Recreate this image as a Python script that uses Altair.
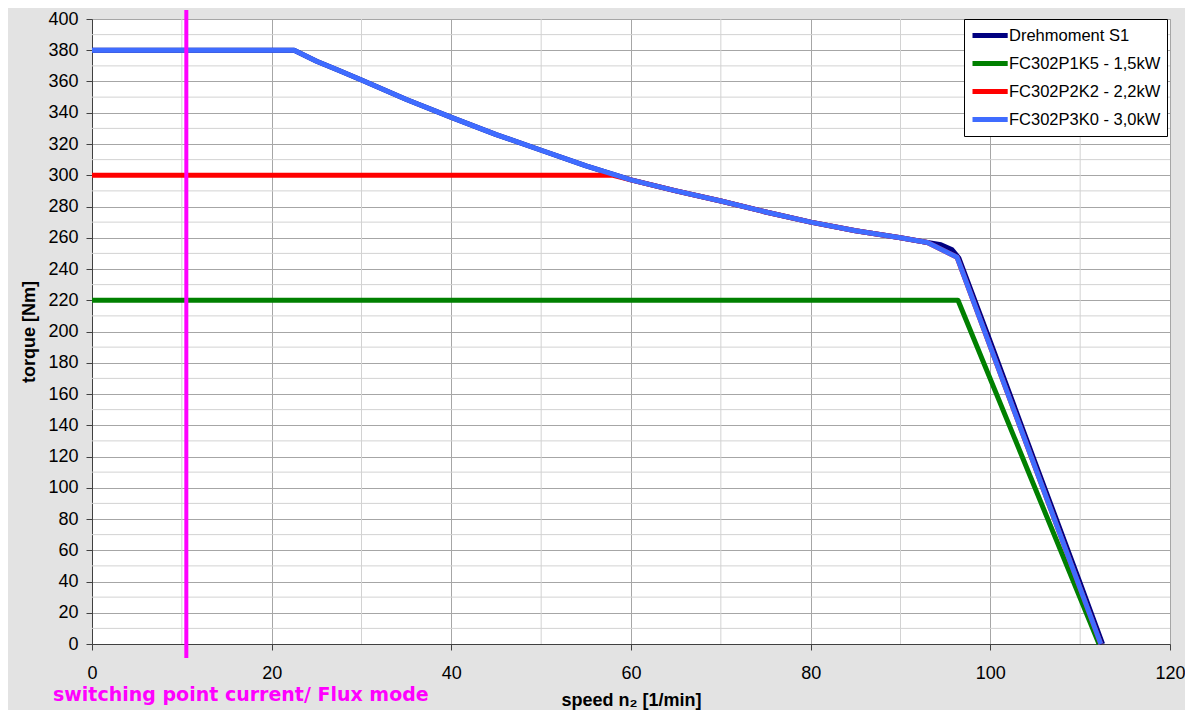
import altair as alt
import pandas as pd

# ---- data ----
series_names = ["Drehmoment S1", "FC302P1K5 - 1,5kW", "FC302P2K2 - 2,2kW", "FC302P3K0 - 3,0kW"]
series_colors = ["#000080", "#008000", "#ff0000", "#3f6cff"]

s1_speed = [0, 22.5, 25, 27.5, 30, 35, 40, 45, 50, 55, 60, 65, 70, 75, 80, 85, 90, 93, 94.5, 95.7, 96.5, 100, 105, 110, 112.5]
s1_torque = [380, 380, 373, 367, 361, 348.5, 337, 326, 316, 306, 297, 290, 283.5, 276.5, 270, 264.5, 260, 257, 255.5, 252.5, 247, 193.5, 116, 39, 0]

p1k5_speed = [0, 96.4, 112.1]
p1k5_torque = [220, 220, 0]

p2k2_speed = [0, 58, 60, 65, 70, 75, 80, 85, 90, 93, 96.3, 112.3]
p2k2_torque = [300, 300, 297, 290, 283.5, 276.5, 270, 264.5, 260, 257, 247.5, 0]

p3k0_speed = [0, 22.5, 25, 27.5, 30, 35, 40, 45, 50, 55, 60, 65, 70, 75, 80, 85, 90, 93, 96.3, 112.3]
p3k0_torque = [380, 380, 373, 367, 361, 348.5, 337, 326, 316, 306, 297, 290, 283.5, 276.5, 270, 264.5, 260, 257, 247.5, 0]

x_ticks = [0, 20, 40, 60, 80, 100, 120]
y_ticks = list(range(0, 401, 20))
x_minor = [10, 30, 50, 70, 90, 110]
y_minor = list(range(10, 400, 20))

switch_speed = [10.5]
switch_label = ["switching point current/ Flux mode"]

# ---- build tables ----
rows = []
for name, xv_list, yv_list in zip(series_names,
                                  [s1_speed, p1k5_speed, p2k2_speed, p3k0_speed],
                                  [s1_torque, p1k5_torque, p2k2_torque, p3k0_torque]):
    for i, (xv, yv) in enumerate(zip(xv_list, yv_list)):
        rows.append({"series": name, "speed": xv, "torque": yv, "idx": i})
df = pd.DataFrame(rows)

xs = alt.Scale(domain=[0, 120], nice=False, zero=False)
ys = alt.Scale(domain=[0, 400], nice=False, zero=False)
FONT = "Liberation Sans"

x_axis = alt.Axis(values=x_ticks, title="speed n₂ [1/min]", grid=True, gridColor="#a6a6a6",
                  labelFont=FONT, labelFontSize=18, labelColor="#000000", labelPadding=14,
                  labelFlush=False, labelOverlap=False,
                  tickColor="#404040", tickSize=6, domainColor="#404040",
                  titleFont=FONT, titleFontSize=18, titleFontWeight="bold", titleColor="#000000",
                  titleY=61, titleBaseline="alphabetic")
y_axis = alt.Axis(values=y_ticks, title="torque [Nm]", grid=True, gridColor="#a6a6a6",
                  labelFont=FONT, labelFontSize=18, labelColor="#000000", labelPadding=8,
                  labelFlush=False, labelOverlap=False,
                  tickColor="#404040", tickSize=6, domainColor="#404040",
                  titleFont=FONT, titleFontSize=18, titleFontWeight="bold", titleColor="#000000",
                  titleAngle=270, titleX=-63, titleY=312.5, titleAlign="center", titleBaseline="middle")

minor_v = alt.Chart(pd.DataFrame({"g": x_minor})).mark_rule(color="#d2d2d2", strokeWidth=1).encode(
    x=alt.X("g:Q", scale=xs, axis=x_axis))
minor_h = alt.Chart(pd.DataFrame({"g": y_minor})).mark_rule(color="#d2d2d2", strokeWidth=1).encode(
    y=alt.Y("g:Q", scale=ys, axis=y_axis))

lines = alt.Chart(df).mark_line(strokeWidth=5, strokeJoin="round", strokeCap="butt").encode(
    x=alt.X("speed:Q", scale=xs, axis=x_axis),
    y=alt.Y("torque:Q", scale=ys, axis=y_axis),
    color=alt.Color("series:N", scale=alt.Scale(domain=series_names, range=series_colors),
                    legend=alt.Legend(title=None, orient="none", legendX=872, legendY=0,
                                      fillColor="#ffffff", strokeColor="#000000", padding=6,
                                      symbolType="M-1,0H3.4", symbolSize=256, symbolStrokeWidth=5,
                                      labelFont=FONT, labelFontSize=16.5, labelColor="#000000",
                                      labelOffset=18, rowPadding=7, labelLimit=300)),
    order=alt.Order("idx:Q"),
)

switch_rule = alt.Chart(pd.DataFrame({"s": switch_speed})).mark_rule(color="#ff00ff", strokeWidth=4).encode(
    x=alt.X("s:Q", scale=xs, axis=x_axis), y=alt.value(-9), y2=alt.value(639))

switch_text = alt.Chart(pd.DataFrame({"t": switch_label})).mark_text(
    align="left", baseline="alphabetic", font="DejaVu Sans", fontWeight="bold",
    fontSize=19, color="#ff00ff").encode(
    x=alt.value(-39), y=alt.value(682), text="t:N")

chart = alt.layer(minor_v, minor_h, lines, switch_rule, switch_text).properties(
    width=1078, height=625,
    autosize=alt.AutoSizeParams(type="none"),
    padding={"left": 84, "top": 11, "right": 15, "bottom": 66},
    background="#e3e3e3",
).configure_view(fill="#ffffff", stroke="#a6a6a6", strokeWidth=1)

chart.save("out.html", embed_options={"renderer": "svg", "actions": False})
